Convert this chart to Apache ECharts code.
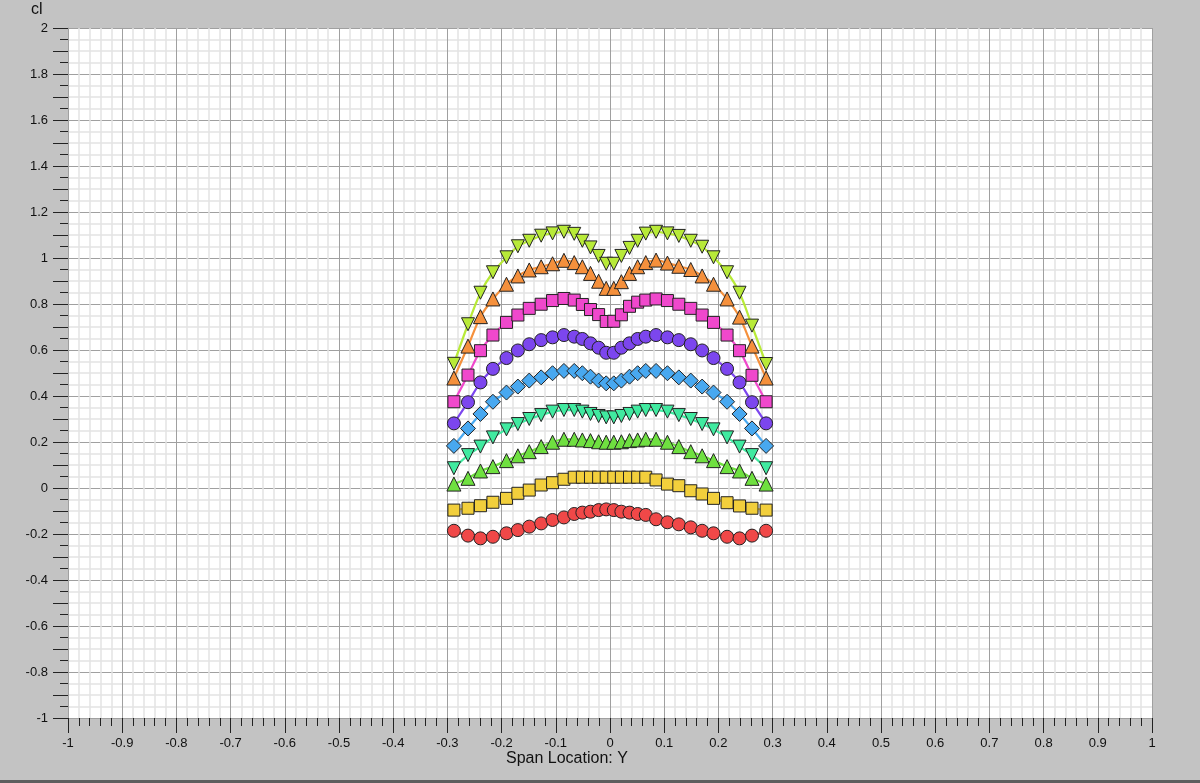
<!DOCTYPE html>
<html>
<head>
<meta charset="utf-8">
<script src="https://cdn.jsdelivr.net/npm/echarts@6/dist/echarts.min.js"></script>
<style>
html, body { margin: 0; padding: 0; background: #c3c3c3; }
#container { width: 1200px; height: 780px; border-bottom: 3px solid #5e5e5e; }
</style>
</head>
<body>
<div id="container"></div>
<script>
// span stations (same for every curve)
var spanY = [-0.288, -0.262, -0.239, -0.216, -0.191, -0.170, -0.149, -0.127, -0.106, -0.085, -0.066, -0.051, -0.036, -0.021, -0.007,
             0.007, 0.021, 0.036, 0.051, 0.066, 0.085, 0.106, 0.127, 0.149, 0.170, 0.191, 0.216, 0.239, 0.262, 0.288];

// cl curves, top to bottom
var clLime    = [0.540, 0.712, 0.849, 0.938, 1.003, 1.051, 1.075, 1.097, 1.107, 1.114, 1.105, 1.075, 1.046, 1.009, 0.975,
                 0.975, 1.009, 1.044, 1.075, 1.106, 1.114, 1.107, 1.096, 1.075, 1.049, 1.003, 0.938, 0.849, 0.706, 0.539];
var clOrange  = [0.478, 0.617, 0.745, 0.822, 0.886, 0.922, 0.948, 0.962, 0.975, 0.990, 0.980, 0.962, 0.933, 0.899, 0.868,
                 0.868, 0.897, 0.933, 0.962, 0.980, 0.991, 0.978, 0.964, 0.950, 0.922, 0.886, 0.822, 0.743, 0.617, 0.478];
var clMagenta = [0.375, 0.491, 0.597, 0.665, 0.720, 0.752, 0.781, 0.799, 0.815, 0.824, 0.817, 0.798, 0.776, 0.754, 0.724,
                 0.725, 0.753, 0.790, 0.808, 0.817, 0.822, 0.815, 0.799, 0.781, 0.752, 0.720, 0.665, 0.597, 0.490, 0.375];
var clPurple  = [0.281, 0.373, 0.459, 0.518, 0.565, 0.598, 0.625, 0.643, 0.655, 0.665, 0.658, 0.648, 0.629, 0.610, 0.588,
                 0.588, 0.610, 0.629, 0.648, 0.658, 0.665, 0.655, 0.643, 0.625, 0.598, 0.565, 0.518, 0.459, 0.373, 0.281];
var clBlue    = [0.183, 0.259, 0.322, 0.375, 0.415, 0.441, 0.467, 0.481, 0.499, 0.509, 0.509, 0.499, 0.484, 0.467, 0.455,
                 0.455, 0.467, 0.484, 0.499, 0.509, 0.509, 0.499, 0.481, 0.467, 0.441, 0.415, 0.375, 0.322, 0.259, 0.183];
var clTeal    = [0.086, 0.143, 0.180, 0.220, 0.255, 0.278, 0.300, 0.317, 0.332, 0.339, 0.339, 0.332, 0.322, 0.313, 0.307,
                 0.307, 0.313, 0.322, 0.332, 0.339, 0.339, 0.332, 0.317, 0.300, 0.278, 0.255, 0.220, 0.180, 0.143, 0.086];
var clGreen   = [0.017, 0.042, 0.074, 0.093, 0.119, 0.140, 0.158, 0.180, 0.199, 0.212, 0.212, 0.209, 0.206, 0.201, 0.199,
                 0.199, 0.201, 0.206, 0.209, 0.212, 0.212, 0.199, 0.180, 0.158, 0.140, 0.119, 0.093, 0.074, 0.042, 0.017];
var clYellow  = [-0.096, -0.088, -0.077, -0.062, -0.045, -0.023, -0.009, 0.013, 0.023, 0.038, 0.047, 0.047, 0.047, 0.047, 0.047,
                 0.047, 0.047, 0.047, 0.047, 0.047, 0.035, 0.017, 0.010, -0.012, -0.026, -0.045, -0.064, -0.078, -0.088, -0.096];
var clRed     = [-0.186, -0.207, -0.219, -0.212, -0.197, -0.183, -0.168, -0.154, -0.139, -0.128, -0.113, -0.107, -0.103, -0.096, -0.093,
                 -0.096, -0.103, -0.107, -0.113, -0.117, -0.136, -0.149, -0.158, -0.171, -0.186, -0.197, -0.212, -0.219, -0.207, -0.186];

var dom = document.getElementById("container");
var myChart = echarts.init(dom);

function pairs(ys) {
    var out = [];
    for (var i = 0; i < ys.length; i++) out.push([spanY[i], ys[i]]);
    return out;
}

function curve(ys, color, symbol, size) {
    return {
        type: 'line',
        data: pairs(ys),
        smooth: 0.3,
        symbol: symbol,
        symbolSize: size,
        showAllSymbol: true,
        lineStyle: { color: color, width: 2.2 },
        itemStyle: { color: color, borderColor: '#222', borderWidth: 1, opacity: 1 },
        emphasis: { disabled: true },
        animation: false
    };
}

var tickLabel = { color: '#111', fontSize: 13, fontFamily: 'Liberation Sans, Arial, sans-serif' };

option = {
    backgroundColor: '#c3c3c3',
    animation: false,
    grid: { left: 68, right: 48, top: 28, bottom: 62, show: true, backgroundColor: '#ffffff', borderWidth: 0 },
    graphic: [
        { type: 'text', left: 31, top: 2, style: { text: 'cl', fill: '#111', fontSize: 16, fontFamily: 'Liberation Sans, Arial, sans-serif' } },
        { type: 'text', left: 506, top: 751, style: { text: 'Span Location: Y', fill: '#111', fontSize: 16, fontFamily: 'Liberation Sans, Arial, sans-serif' } }
    ],
    xAxis: [{
        type: 'value',
        min: -1, max: 1, interval: 0.1,
        axisLine: { show: true, onZero: false, lineStyle: { color: '#a0a0a0' } },
        axisTick: { show: true, length: 15, lineStyle: { color: '#222' } },
        minorTick: { show: true, splitNumber: 5, length: 8, lineStyle: { color: '#222' } },
        splitLine: { show: true, lineStyle: { color: '#a0a0a0', width: 1 } },
        minorSplitLine: { show: true, lineStyle: { color: '#e3e3e3', width: 1.5 } },
        axisLabel: Object.assign({ margin: 19, formatter: function (v) { return String(+v.toFixed(1)); } }, tickLabel)
    }],
    yAxis: [{
        type: 'value',
        min: -1, max: 2, interval: 0.2,
        axisLine: { show: true, onZero: false, lineStyle: { color: '#a0a0a0' } },
        axisTick: { show: true, length: 15, lineStyle: { color: '#222' } },
        minorTick: { show: true, splitNumber: 4, length: 8, lineStyle: { color: '#222' } },
        splitLine: { show: true, lineStyle: { color: '#a0a0a0', width: 1 } },
        minorSplitLine: { show: true, lineStyle: { color: '#e3e3e3', width: 1.5 } },
        axisLabel: Object.assign({ margin: 20, formatter: function (v) { return String(+v.toFixed(1)); } }, tickLabel)
    }, {
        // extra long ticks at every 0.1
        type: 'value',
        position: 'left',
        min: -1, max: 2, interval: 0.1,
        axisLine: { show: false, onZero: false },
        axisTick: { show: true, length: 15, lineStyle: { color: '#222' } },
        splitLine: { show: false },
        axisLabel: { show: false }
    }],
    series: [
        curve(clRed, '#f04848', 'circle', 13),
        curve(clYellow, '#f2cf3c', 'rect', 12),
        curve(clGreen, '#6fe040', 'triangle', 14),
        curve(clTeal, '#40eaa0', 'path://M0,0 L10,0 L5,9 Z', 13),
        curve(clBlue, '#48a8f0', 'diamond', 15),
        curve(clPurple, '#7c46ee', 'circle', 13),
        curve(clMagenta, '#f048cc', 'rect', 12),
        curve(clOrange, '#f5903c', 'triangle', 14),
        curve(clLime, '#b8ea38', 'path://M0,0 L10,0 L5,9 Z', 13)
    ]
};

if (option && typeof option === "object") {
    myChart.setOption(option, true);
}
</script>
</body>
</html>
